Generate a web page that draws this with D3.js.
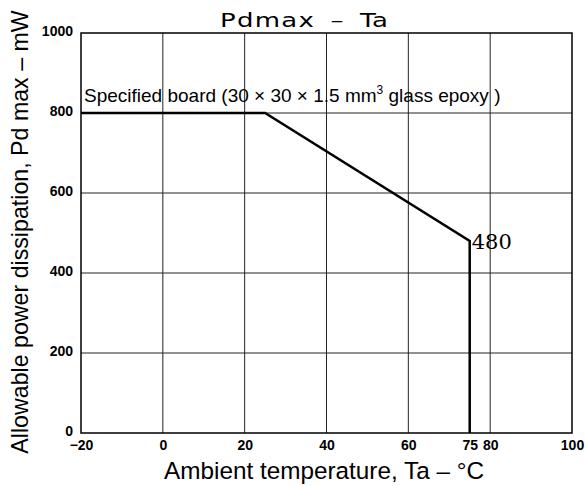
<!doctype html>
<html>
<head>
<script src="https://d3js.org/d3.v7.min.js"></script>
<style>
  body { margin: 0; background: #fff; }
  .grid line { stroke: #222; stroke-width: 1; }
  .tick text { font-family: "Liberation Sans Narrow", "Liberation Sans", sans-serif; font-weight: bold; font-size: 14px; fill: #000; }
</style>
</head>
<body>
<svg width="585" height="486"></svg>
<script>
var xTicks = [-20, 0, 20, 40, 60, 75, 80, 100];
var yTicks = [0, 200, 400, 600, 800, 1000];
var xGrid = [0, 20, 40, 60, 80];
var yGrid = [200, 400, 600, 800];
// derating curve: temperature (°C), power (mW)
var curveTa = [-20, 25, 75, 75];
var curvePd = [800, 800, 480, 0];

var svg = d3.select("svg");
var pl = 81, pr = 572, pt = 33, pb = 433;
var x = d3.scaleLinear().domain([-20, 100]).range([pl, pr]);
var y = d3.scaleLinear().domain([0, 1000]).range([pb, pt]);

var g = svg.append("g").attr("class", "grid");
g.selectAll("line.v").data(xGrid).enter().append("line")
  .attr("x1", d => x(d)).attr("x2", d => x(d)).attr("y1", pt).attr("y2", pb);
g.selectAll("line.h").data(yGrid).enter().append("line")
  .attr("y1", d => y(d)).attr("y2", d => y(d)).attr("x1", pl).attr("x2", pr);

svg.append("rect").attr("x", pl).attr("y", pt)
  .attr("width", pr - pl).attr("height", pb - pt)
  .attr("fill", "none").attr("stroke", "#000").attr("stroke-width", 1.5);

var xAxis = svg.append("g").attr("transform", "translate(0," + pb + ")")
  .call(d3.axisBottom(x).tickValues(xTicks).tickSize(0).tickPadding(7)
    .tickFormat(d => d < 0 ? "\u2212" + Math.abs(d) : d));
xAxis.select(".domain").remove();

var yAxis = svg.append("g").attr("transform", "translate(" + pl + ",0)")
  .call(d3.axisLeft(y).tickValues(yTicks).tickSize(0).tickPadding(8).tickFormat(d3.format("d")));
yAxis.select(".domain").remove();
yAxis.selectAll(".tick text").attr("dy", "0.2em");

var pts = curveTa.map((t, i) => [t, curvePd[i]]);
svg.append("path").datum(pts)
  .attr("d", d3.line().x(d => x(d[0])).y(d => y(d[1])))
  .attr("fill", "none").attr("stroke", "#000").attr("stroke-width", 2.5)
  .attr("stroke-linejoin", "miter");

svg.append("text").attr("x", x(75) + 2).attr("y", y(480) + 8)
  .style("font-family", "'DejaVu Serif', 'Liberation Serif', serif").attr("font-size", 21).text("480");

svg.append("text").attr("x", pl + 3).attr("y", y(800) - 11)
  .style("font-family", "'Liberation Sans', Arial, sans-serif").attr("font-size", 19)
  .html("Specified board (30 \u00d7 30 \u00d7 1.5 mm<tspan dy='-8' font-size='12'>3</tspan><tspan dy='8'> glass epoxy )</tspan>");

// title: wide lettering, stretched horizontally
var sx = 1.3;
var title = svg.append("g").attr("transform", "translate(220,27) scale(" + sx + ",1)")
  .style("font-family", "'DejaVu Sans', sans-serif").attr("font-size", 20);
title.append("text").attr("x", 0).attr("y", 0).attr("textLength", 94 / sx)
  .attr("lengthAdjust", "spacing").text("Pdmax");
title.append("text").attr("x", 117 / sx).attr("y", 0).attr("text-anchor", "middle").text("\u2013");
title.append("text").attr("x", 140 / sx).attr("y", 0).attr("textLength", 28 / sx)
  .attr("lengthAdjust", "spacing").text("Ta");

svg.append("text").attr("x", 324).attr("y", 479).attr("text-anchor", "middle")
  .style("font-family", "'Liberation Sans', Arial, sans-serif").attr("font-size", 24.3)
  .text("Ambient temperature, Ta \u2013 \u00b0C");

svg.append("text").attr("transform", "translate(28,232) rotate(-90)").attr("text-anchor", "middle")
  .style("font-family", "'Liberation Sans', Arial, sans-serif").attr("font-size", 23.2)
  .text("Allowable power dissipation, Pd max \u2013 mW");
</script>
</body>
</html>
